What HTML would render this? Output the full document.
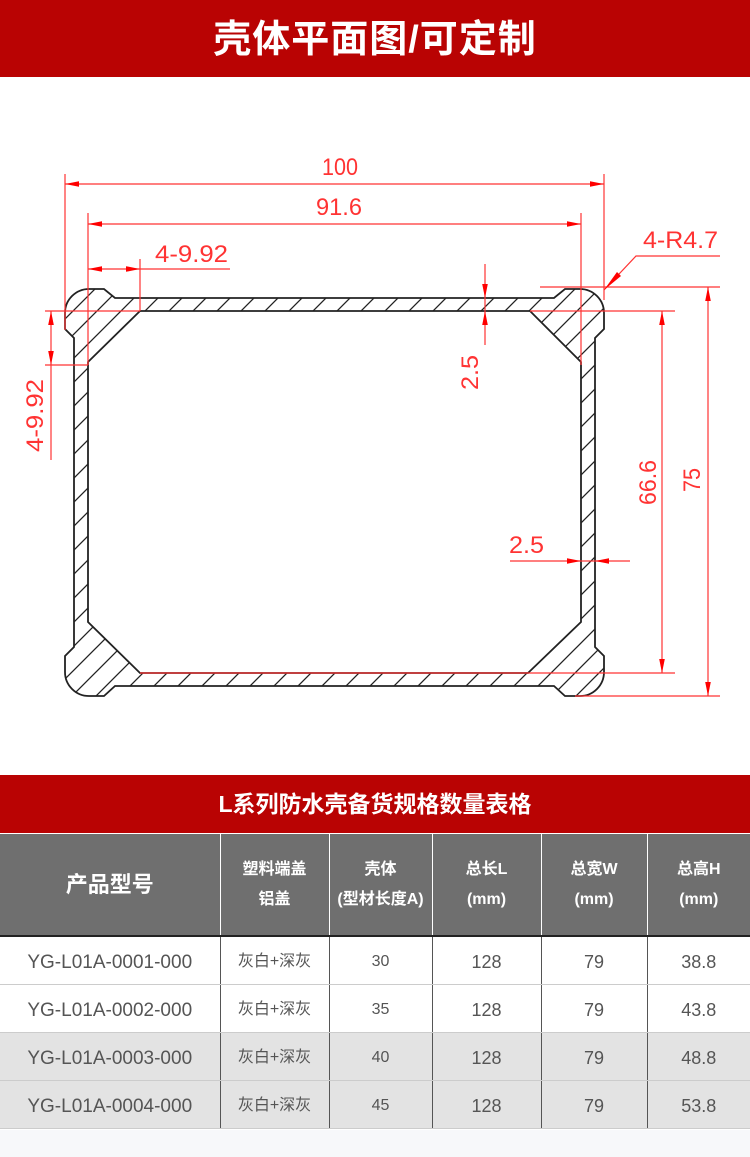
<!DOCTYPE html>
<html><head><meta charset="utf-8"><style>
*{margin:0;padding:0;box-sizing:border-box}
body{width:750px;height:1157px;background:#fff;font-family:"Liberation Sans","Noto Sans CJK SC",sans-serif;position:relative;overflow:hidden}
.hdr{position:absolute;left:0;top:0;width:750px;height:77px;background:#b90303;color:#fff;font-size:38px;font-weight:bold;text-align:center;line-height:80px;letter-spacing:1px}
.bar2{position:absolute;left:0;top:775px;width:750px;height:58px;background:#b90303;color:#fff;font-size:23px;font-weight:bold;text-align:center;line-height:58px}
.foot{position:absolute;left:0;top:1130px;width:750px;height:27px;background:#f7f8fa}
table{position:absolute;left:0;top:834px;width:750px;border-collapse:collapse;table-layout:fixed}
td{text-align:center;color:#555;font-size:18px;border-left:1px solid #555;border-bottom:1px solid #ccc;vertical-align:middle;line-height:1}
td:first-child{border-left:none;font-size:19px}
tr.h td{background:#6f6f6f;color:#fff;font-weight:bold;font-size:16px;height:102px;line-height:30px;border-left:1px solid #fff;border-bottom:2px solid #222}
tr.h td:first-child{border-left:none;font-size:22px}
tr.r td{height:48px;padding-top:4px}
tr.g td{background:#e3e3e3;border-top:1px solid #333}
td.s{font-size:16px}
</style></head><body>
<div class="hdr">壳体平面图/可定制</div>
<svg style="position:absolute;left:0;top:77px" width="750" height="698" viewBox="0 77 750 698">
<defs>
<pattern id="hp" patternUnits="userSpaceOnUse" width="24" height="24">
<path d="M-2,26 L26,-2 M-2,2 L2,-2 M22,26 L26,22" stroke="#222" stroke-width="1.3"/>
</pattern>
<marker id="a" viewBox="0 0 10 4" refX="10" refY="2" markerWidth="14" markerHeight="6" markerUnits="userSpaceOnUse" orient="auto-start-reverse"><path d="M0,0L10,2L0,4Z" fill="#f00"/></marker>
</defs>
<path fill-rule="evenodd" fill="url(#hp)" stroke="#222" stroke-width="1.8" d="M115,298 L554,298 L565,289 L580,289 A24,24 0 0 1 604,313 L604,329 L595,338 L595,647 L604,656 L604,672 A24,24 0 0 1 580,696 L565,696 L554,686 L115,686 L104,696 L89,696 A24,24 0 0 1 65,672 L65,656 L74,647 L74,338 L65,329 L65,313 A24,24 0 0 1 89,289 L104,289 Z M140,311 L530,311 L581,362 L581,622 L528,673 L140,673 L88,622 L88,362 Z"/>
<g stroke="#f33" stroke-width="1.2" fill="none">
<line x1="65" y1="174" x2="65" y2="330"/><line x1="604" y1="174" x2="604" y2="300"/>
<line x1="65" y1="184" x2="604" y2="184" marker-start="url(#a)" marker-end="url(#a)"/>
<line x1="88" y1="213" x2="88" y2="365"/><line x1="581" y1="213" x2="581" y2="365"/>
<line x1="88" y1="224" x2="581" y2="224" marker-start="url(#a)" marker-end="url(#a)"/>
<line x1="140" y1="259" x2="140" y2="311"/>
<line x1="88" y1="269" x2="140" y2="269" marker-start="url(#a)" marker-end="url(#a)"/>
<line x1="140" y1="269" x2="230" y2="269"/>
<line x1="45" y1="311" x2="140" y2="311"/><line x1="45" y1="365" x2="88" y2="365"/>
<line x1="51" y1="311" x2="51" y2="365" marker-start="url(#a)" marker-end="url(#a)"/>
<line x1="51" y1="365" x2="51" y2="460"/>
<line x1="485" y1="264" x2="485" y2="298" marker-end="url(#a)"/>
<line x1="485" y1="345" x2="485" y2="311" marker-end="url(#a)"/>
<line x1="485" y1="298" x2="485" y2="311"/>
<line x1="540" y1="287" x2="720" y2="287"/><line x1="530" y1="311" x2="675" y2="311"/>
<line x1="140" y1="673" x2="675" y2="673"/><line x1="575" y1="696" x2="720" y2="696"/>
<line x1="662" y1="311" x2="662" y2="673" marker-start="url(#a)" marker-end="url(#a)"/>
<line x1="708" y1="287" x2="708" y2="696" marker-start="url(#a)" marker-end="url(#a)"/>
<line x1="510" y1="561" x2="581" y2="561" marker-end="url(#a)"/>
<line x1="630" y1="561" x2="595" y2="561" marker-end="url(#a)"/>
<line x1="581" y1="561" x2="595" y2="561"/>
<polyline points="720,256 636,256 604,290"/>
</g>
<path d="M604,290 L617,272 L621,276Z" fill="#f00"/>
<g fill="#f33" font-family="Liberation Sans,sans-serif" font-size="24">
<text x="322" y="175" textLength="36" lengthAdjust="spacingAndGlyphs">100</text>
<text x="316" y="215" textLength="46" lengthAdjust="spacingAndGlyphs">91.6</text>
<text x="155" y="262" textLength="73" lengthAdjust="spacingAndGlyphs">4-9.92</text>
<text x="643" y="248" textLength="75" lengthAdjust="spacingAndGlyphs">4-R4.7</text>
<text x="509" y="553" textLength="35" lengthAdjust="spacingAndGlyphs">2.5</text>
<text transform="translate(43,452) rotate(-90)" textLength="73" lengthAdjust="spacingAndGlyphs">4-9.92</text>
<text transform="translate(478,390) rotate(-90)" textLength="35" lengthAdjust="spacingAndGlyphs">2.5</text>
<text transform="translate(656,505) rotate(-90)" textLength="45" lengthAdjust="spacingAndGlyphs">66.6</text>
<text transform="translate(700,492) rotate(-90)" textLength="24" lengthAdjust="spacingAndGlyphs">75</text>
</g>
</svg>
<div class="bar2">L系列防水壳备货规格数量表格</div>
<table>
<colgroup><col style="width:220px"><col style="width:109px"><col style="width:103px"><col style="width:109px"><col style="width:106px"><col style="width:103px"></colgroup>
<tr class="h"><td>产品型号</td><td>塑料端盖<br>铝盖</td><td>壳体<br>(型材长度A)</td><td>总长L<br>(mm)</td><td>总宽W<br>(mm)</td><td>总高H<br>(mm)</td></tr>
<tr class="r"><td>YG-L01A-0001-000</td><td class="s">灰白+深灰</td><td class="s">30</td><td>128</td><td>79</td><td>38.8</td></tr>
<tr class="r"><td>YG-L01A-0002-000</td><td class="s">灰白+深灰</td><td class="s">35</td><td>128</td><td>79</td><td>43.8</td></tr>
<tr class="r g"><td>YG-L01A-0003-000</td><td class="s">灰白+深灰</td><td class="s">40</td><td>128</td><td>79</td><td>48.8</td></tr>
<tr class="r g"><td>YG-L01A-0004-000</td><td class="s">灰白+深灰</td><td class="s">45</td><td>128</td><td>79</td><td>53.8</td></tr>
</table>
<div class="foot"></div>
</body></html>
